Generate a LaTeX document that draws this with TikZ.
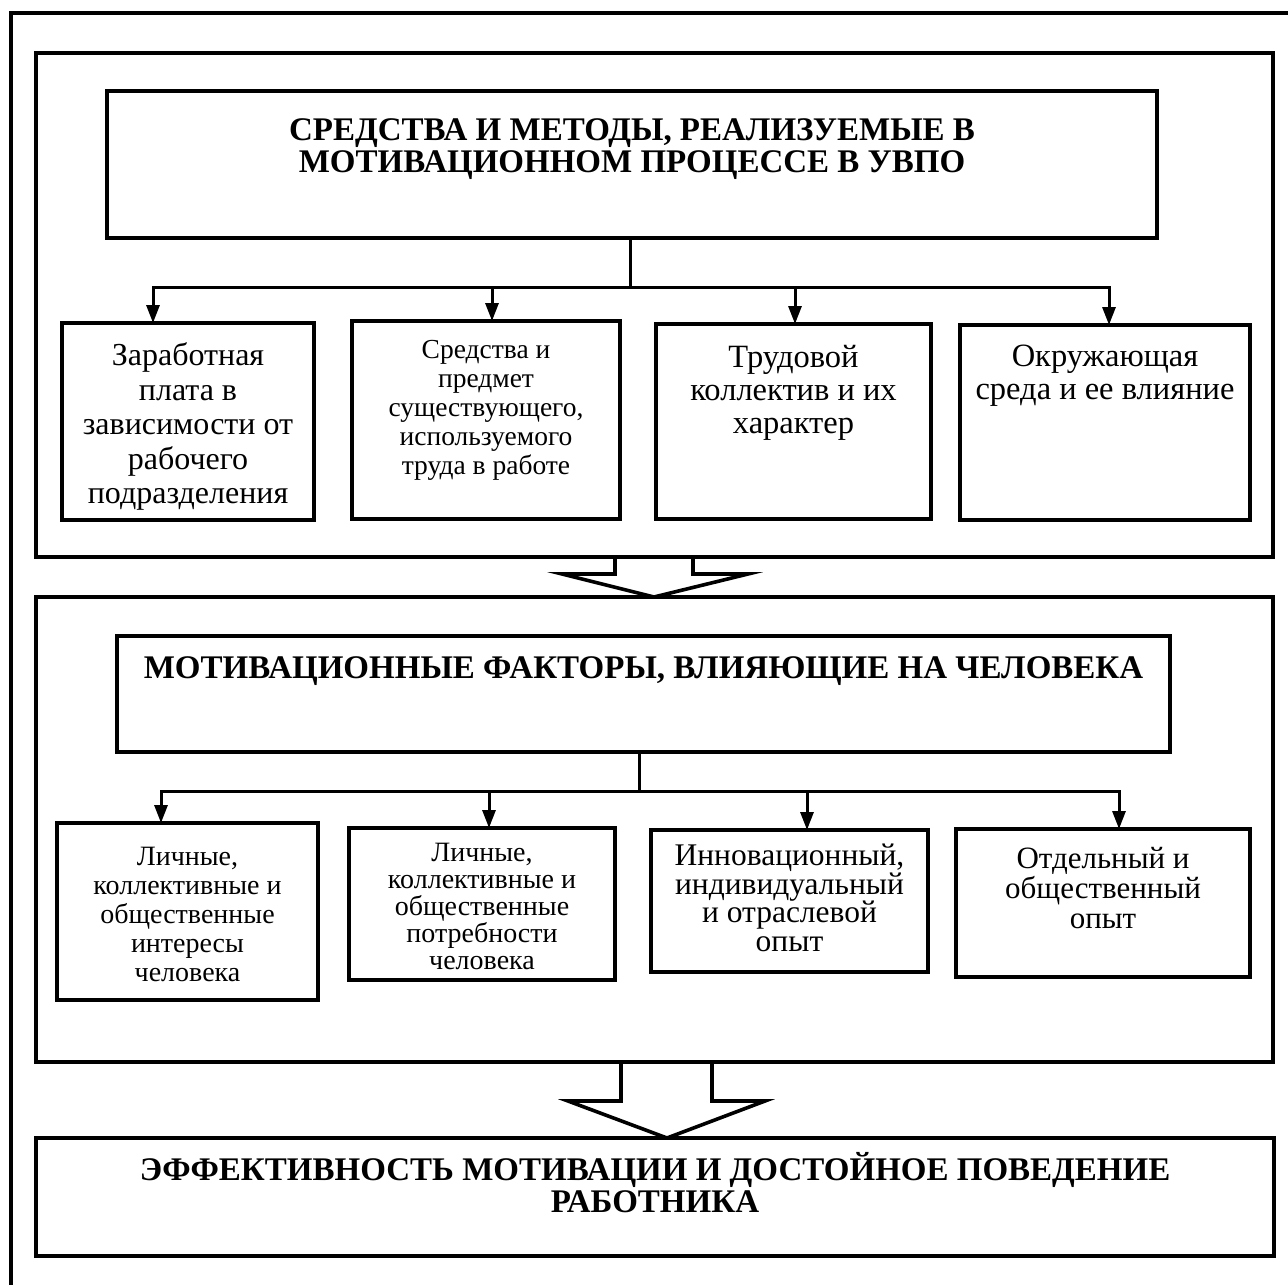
\documentclass[tikz,border=0pt]{standalone}
\usepackage{fontspec}
\setmainfont{Liberation Serif}
\usetikzlibrary{arrows.meta,calc}

\newcommand\setsize[2]{\fontsize{#1}{#2}\selectfont\lineskiplimit=-100pt\relax}

\begin{document}
\begin{tikzpicture}[x=1pt,y=-1pt,
  every node/.style={inner sep=0pt, outer sep=0pt},
  frame/.style={line width=3.8pt},
  box/.style={draw, line width=3.8pt, rectangle},
  conn/.style={line width=3pt},
  arr/.style={conn, -{Triangle[length=18pt,width=13pt]}},
  blockarrow/.style={line width=3.6pt, fill=white, line join=miter},
  ttl/.style={align=center, font=\setsize{33}{32}\bfseries},
  txtA/.style={align=center, font=\setsize{32}{34.5}},
  txtB/.style={align=center, font=\setsize{27.5}{29}},
  txtC/.style={align=center, font=\setsize{32.5}{33}},
  txtE/.style={align=center, font=\setsize{28}{29}},
  txtF/.style={align=center, font=\setsize{28}{27}},
  txtG/.style={align=center, font=\setsize{31.5}{28.5}},
  txtH/.style={align=center, font=\setsize{31}{30}}]

\useasboundingbox[fill=white] (0,0) rectangle (1288,1285);

% outer frame (top and left edges)
\draw[frame] (11,1285) -- (11,13) -- (1288,13);

% ---------- section 1: means and methods ----------
\node[box, minimum width=1237pt, minimum height=504pt] (sec1) at (654.5,305) {};
\node[box, minimum width=1050pt, minimum height=147pt] (t1) at (632,164.5) {};
\node[ttl, anchor=north] (t1txt) at (632,119) {СРЕДСТВА И МЕТОДЫ, РЕАЛИЗУЕМЫЕ В\\МОТИВАЦИОННОМ ПРОЦЕССЕ В УВПО};

\node[box, minimum width=252pt, minimum height=197pt] (A) at (188,421.5) {};
\node[box, minimum width=268pt, minimum height=198pt] (B) at (486,420) {};
\node[box, minimum width=275pt, minimum height=195pt] (C) at (793.5,421.5) {};
\node[box, minimum width=290pt, minimum height=195pt] (D) at (1105,422.5) {};

\node[txtA, anchor=north] (Atxt) at (188,343) {Заработная\\плата в\\зависимости от\\рабочего\\подразделения};
\node[txtB, anchor=north] (Btxt) at (486,340.5) {Средства и\\предмет\\существующего,\\используемого\\труда в работе};
\node[txtC, anchor=north] (Ctxt) at (793.5,345) {Трудовой\\коллектив и их\\характер};
\node[txtC, anchor=north] (Dtxt) at (1105,345) {Окружающая\\среда и ее влияние};

\coordinate (j1) at ($(t1.south)+(-2,49)$);
\draw[conn] (t1.south -| j1) -- (j1);
\draw[arr] (j1) -| ([xshift=-35pt]A.north);
\draw[arr] (j1) -| ([xshift=6pt]B.north);
\draw[arr] (j1) -| ([xshift=1.5pt]C.north);
\draw[arr] (j1) -| ([xshift=4pt]D.north);

% ---------- section 2: motivational factors ----------
\node[box, minimum width=1237pt, minimum height=465pt] (sec2) at (654.5,829.5) {};
\node[box, minimum width=1053pt, minimum height=116pt] (t2) at (643.5,694) {};
\node[ttl, anchor=north] (t2txt) at (643.5,657) {МОТИВАЦИОННЫЕ ФАКТОРЫ, ВЛИЯЮЩИЕ НА ЧЕЛОВЕКА};

\node[box, minimum width=261pt, minimum height=177pt] (E) at (187.5,911.5) {};
\node[box, minimum width=266pt, minimum height=152pt] (F) at (482,904) {};
\node[box, minimum width=277pt, minimum height=142pt] (G) at (789.5,901) {};
\node[box, minimum width=294pt, minimum height=148pt] (H) at (1103,903) {};

\node[txtE, anchor=north] (Etxt) at (187.5,847) {Личные,\\коллективные и\\общественные\\интересы\\человека};
\node[txtF, anchor=north] (Ftxt) at (482,843) {Личные,\\коллективные и\\общественные\\потребности\\человека};
\node[txtG, anchor=north] (Gtxt) at (789.5,844) {Инновационный,\\индивидуальный\\и отраслевой\\опыт};
\node[txtH, anchor=north] (Htxt) at (1103,847) {Отдельный и\\общественный\\опыт};

\coordinate (j2) at ($(t2.south)+(-4.5,39)$);
\draw[conn] (t2.south -| j2) -- (j2);
\draw[arr] (j2) -| ([xshift=-26.5pt]E.north);
\draw[arr] (j2) -| ([xshift=7pt]F.north);
\draw[arr] (j2) -| ([xshift=17.5pt]G.north);
\draw[arr] (j2) -| ([xshift=16pt]H.north);

% ---------- result ----------
\node[box, minimum width=1238pt, minimum height=118pt] (res) at (655,1197) {};
\node[ttl, anchor=north] (restxt) at (655,1152) {ЭФФЕКТИВНОСТЬ МОТИВАЦИИ И ДОСТОЙНОЕ ПОВЕДЕНИЕ\\РАБОТНИКА};

% block arrows between sections
\draw[blockarrow] (615,557) -- (615,574) -- (562,574) -- (654,597) -- (748,574) -- (693,574) -- (693,557) -- cycle;
\draw[blockarrow] (621,1062) -- (621,1101) -- (568,1101) -- (667,1138) -- (765,1101) -- (712,1101) -- (712,1062) -- cycle;
\end{tikzpicture}
\end{document}
